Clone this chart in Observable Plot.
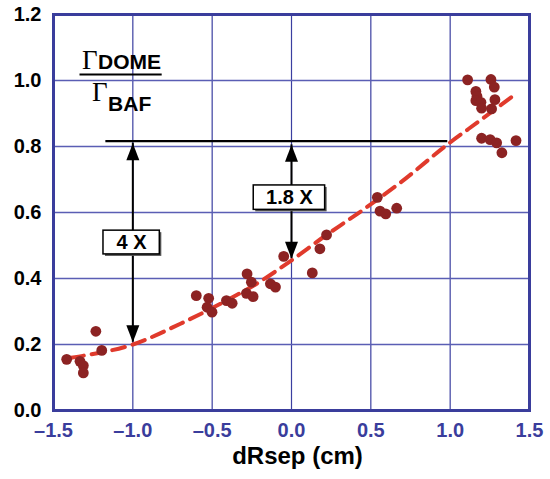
<!DOCTYPE html>
<html><head><meta charset="utf-8">
<script src="https://cdn.jsdelivr.net/npm/d3@7"></script>
<script src="https://cdn.jsdelivr.net/npm/@observablehq/plot@0.6"></script>
<style>body{margin:0;background:#fff} #chart{width:550px;height:479px}</style>
</head><body><div id="chart"></div>
<script>
// measured data points (dRsep, Gamma ratio)
const pointX = [-1.417,-1.333,-1.312,-1.312,-1.233,-1.196,
  -0.600,-0.522,-0.532,-0.501,-0.410,-0.374,-0.280,-0.253,-0.284,-0.242,-0.133,-0.101,-0.049,0.131,0.179,0.221,0.541,0.558,0.594,0.663,
  1.110,1.257,1.278,1.162,1.169,1.162,1.194,1.198,1.282,1.261,1.198,1.252,1.293,1.326,1.415];
const pointY = [0.155,0.149,0.136,0.114,0.240,0.182,
  0.348,0.340,0.313,0.298,0.333,0.325,0.414,0.389,0.355,0.345,0.384,0.374,0.467,0.417,0.490,0.532,0.646,0.604,0.596,0.613,
  1.002,1.003,0.980,0.967,0.952,0.939,0.934,0.916,0.942,0.914,0.825,0.821,0.811,0.781,0.818];
// fitted trend (dashed)
const curveX = [-1.39,-1.3,-1.0,-0.7,-0.43,-0.2,0.0,0.2,0.415,0.69,0.98,1.2,1.42];
const curveY = [0.160,0.167,0.200,0.263,0.328,0.390,0.455,0.525,0.596,0.692,0.805,0.883,0.962];
const xTicks = [-1.5,-1.0,-0.5,0.0,0.5,1.0,1.5];
const yTicks = [0.0,0.2,0.4,0.6,0.8,1.0,1.2];
const xLabel = "dRsep (cm)";
// annotations
const refLevel = [0.816];
const refFrom = [-1.17];
const refTo = [0.985];
const arrowX = [-1.0, 0.0];
const arrowTop = [0.810, 0.805];
const arrowBottom = [0.207, 0.46];
const boxLabels = ["4 X", "1.8 X"];
const boxX1 = [-1.185, -0.238];
const boxX2 = [-0.83, 0.212];
const boxY1 = [0.473, 0.608];
const boxY2 = [0.545, 0.682];
const boxCX = [-1.008, -0.013];
const boxCY = [0.509, 0.645];
const gammaSym = "\u0393";
const subTop = "DOME", subBottom = "BAF";

const points = pointX.map((x, i) => ({x, y: pointY[i]}));
const curve = curveX.map((x, i) => ({x, y: curveY[i]}));
const arrows = arrowX.map((x, i) => ({x, top: arrowTop[i], bottom: arrowBottom[i]}));
const boxes = boxLabels.map((t, i) => ({t, x1: boxX1[i], x2: boxX2[i], y1: boxY1[i], y2: boxY2[i], cx: boxCX[i], cy: boxCY[i]}));
const fmt = d => d.toFixed(1).replace("-", "\u2013");
const head = {draw(ctx, l, r) { ctx.moveTo(0, -l); ctx.lineTo(-r, 0); ctx.lineTo(r, 0); ctx.closePath(); }};
const sans = "'Liberation Sans', Arial, sans-serif";
const serif = "'Liberation Serif', 'Times New Roman', serif";

const chart = Plot.plot({
  width: 550, height: 479,
  marginLeft: 53, marginRight: 21, marginTop: 14, marginBottom: 69,
  style: {fontFamily: sans, background: "#fff"},
  x: {domain: [-1.5, 1.5]},
  y: {domain: [0, 1.2]},
  marks: [
    Plot.gridX(xTicks, {stroke: "#3b3fa0", strokeOpacity: 1, strokeWidth: 1.2}),
    Plot.gridY(yTicks, {stroke: "#5a5eb4", strokeOpacity: 1, strokeWidth: 1.3}),
    Plot.frame({stroke: "#3a3d9c", strokeWidth: 3}),
    Plot.axisY(yTicks, {tickSize: 0, tickPadding: 12, tickFormat: fmt, fontSize: 20, fontWeight: "bold", fill: "#000", label: null}),
    Plot.axisX(xTicks, {tickSize: 0, tickPadding: 12, tickFormat: fmt, fontSize: 20, fontWeight: "bold", fill: "#3a3d9c", label: null}),
    Plot.text([xLabel], {frameAnchor: "bottom", lineAnchor: "bottom", dy: 53, dx: 6, fontSize: 24, fontWeight: "bold", fill: "#000"}),
    // reference line
    Plot.ruleY(refLevel, {x1: refFrom, x2: refTo, y: d => d, stroke: "#000", strokeWidth: 2.2}),
    // arrow shafts
    Plot.ruleX(arrows, {x: "x", y1: "top", y2: "bottom", stroke: "#000", strokeWidth: 2}),
    Plot.vector(arrows, {x: "x", y: "top", length: 17, r: 6.5, anchor: "end", rotate: 0, shape: head, fill: "#000", stroke: "none"}),
    Plot.vector(arrows, {x: "x", y: "bottom", length: 17, r: 6.5, anchor: "end", rotate: 180, shape: head, fill: "#000", stroke: "none"}),
    // boxes
    Plot.rect(boxes, {x1: "x1", x2: "x2", y1: "y1", y2: "y2", fill: "#555", dx: 2, dy: 2}),
    Plot.rect(boxes, {x1: "x1", x2: "x2", y1: "y1", y2: "y2", fill: "#fff", stroke: "#000", strokeWidth: 1.5}),
    Plot.text(boxes, {x: "cx", y: "cy", text: "t", fontSize: 20, fontWeight: "bold", fill: "#000"}),
    // trend
    Plot.line(curve, {x: "x", y: "y", stroke: "#e03a2c", strokeWidth: 4, strokeDasharray: "13,8", curve: "monotone-x"}),
    Plot.dot(points, {x: "x", y: "y", r: 5.4, fill: "#8c2323", stroke: "none"}),
    // fraction label
    Plot.text([gammaSym], {x: [-1.32], y: [1.036], textAnchor: "start", lineAnchor: "bottom", fontFamily: serif, fontSize: 27, fill: "#000"}),
    Plot.text([subTop], {x: [-1.219], y: [1.036], textAnchor: "start", lineAnchor: "bottom", fontSize: 21, fontWeight: "bold", fill: "#000"}),
    Plot.ruleY([1.018], {x1: -1.333, x2: -0.815, stroke: "#000", strokeWidth: 2}),
    Plot.text([gammaSym], {x: [-1.257], y: [0.939], textAnchor: "start", lineAnchor: "bottom", fontFamily: serif, fontSize: 27, fill: "#000"}),
    Plot.text([subBottom], {x: [-1.156], y: [0.909], textAnchor: "start", lineAnchor: "bottom", fontSize: 21, fontWeight: "bold", fill: "#000"})
  ]
});
document.getElementById("chart").appendChild(chart);
</script>
</body></html>
